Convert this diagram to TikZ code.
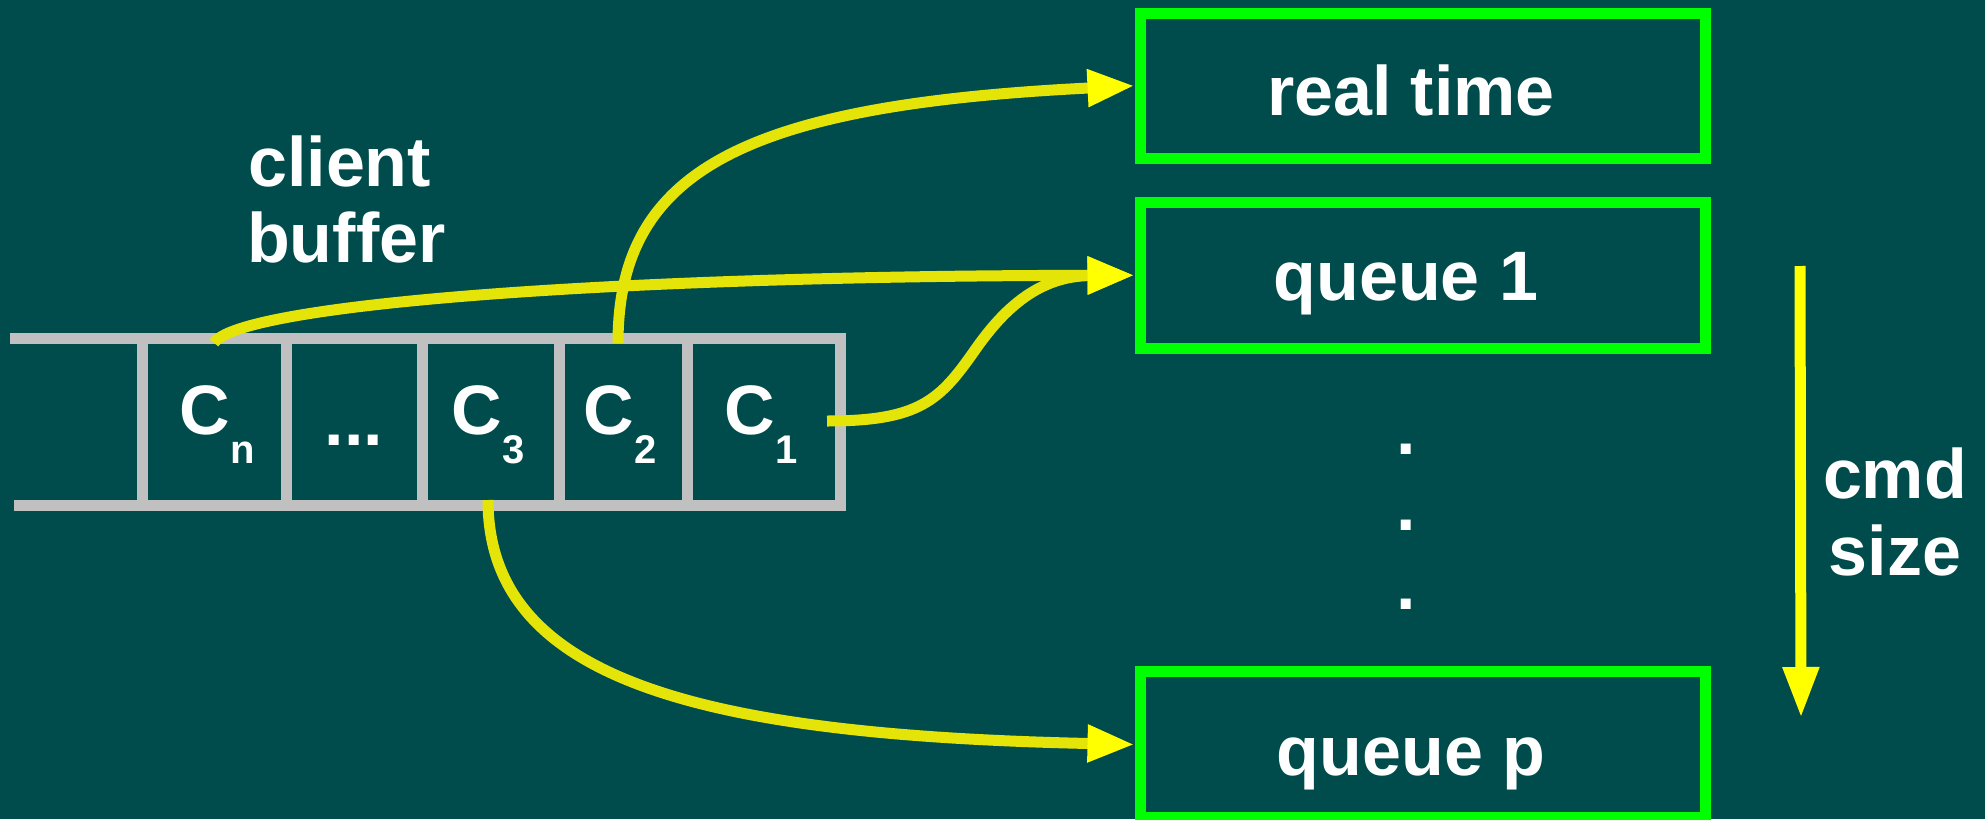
\documentclass[tikz,border=0pt]{standalone}
\usepackage{fontspec}
\setmainfont{Liberation Sans}
\usetikzlibrary{arrows.meta}

\definecolor{bgteal}{RGB}{0,76,76}
\definecolor{bufgray}{RGB}{192,192,192}
\definecolor{qgreen}{RGB}{0,255,0}
\definecolor{flowyellow}{RGB}{228,228,8}
\definecolor{tipyellow}{RGB}{255,255,0}

\tikzset{
  bigtext/.style={text=white, font=\fontsize{70}{76}\selectfont\bfseries, inner sep=0pt},
  qbox/.style={draw=qgreen, line width=11pt, minimum width=565pt, minimum height=145.5pt, inner sep=0pt},
  buffline/.style={draw=bufgray, line width=11pt},
  flow/.style={draw=flowyellow, line width=11pt,
    -{Triangle[length=47pt,width=35pt,color=tipyellow]}},
  sizearrow/.style={draw=tipyellow, line width=11pt,
    -{Triangle[length=51pt,width=34pt]}},
}
\newcommand{\cell}[1]{C\raisebox{-29pt}{\fontsize{40}{40}\selectfont #1}}

\begin{document}
\begin{tikzpicture}[x=1pt,y=-1pt]
\useasboundingbox[fill=bgteal] (0,0) rectangle (1985,819);

% client buffer: two rails, closed right end, cell walls
\draw[buffline] (10,338) -- (840,338) -- (840,505) -- (14,505);
\foreach \x in {142,286,422,559,687}
  \draw[buffline] (\x,338) -- (\x,505);

\node[bigtext, anchor=base] (cn) at (217,434) {\cell{n}};
\node[bigtext, anchor=base] (cdots) at (354,445) {...};
\node[bigtext, anchor=base] (c3) at (488,434) {\cell{3}};
\node[bigtext, anchor=base] (c2) at (620,434) {\cell{2}};
\node[bigtext, anchor=base] (c1) at (761,434) {\cell{1}};

\node[bigtext, anchor=base west] (client) at (248,186) {client};
\node[bigtext, anchor=base west] (buffer) at (247,262) {buffer};

% queues
\node[qbox] (rt) at (1422.5,85.75) {};
\node[qbox] (q1) at (1422.5,275.25) {};
\node[qbox] (qp) at (1422.5,744.5) {};
\node[bigtext, anchor=base] (rtlabel) at (1411,115) {real time};
\node[bigtext, anchor=base] (q1label) at (1406,300) {queue 1};
\node[bigtext, anchor=base] (qplabel) at (1411,775) {queue p};

\node[bigtext, anchor=base] (vd1) at (1406,454) {.};
\node[bigtext, anchor=base] (vd2) at (1406,530) {.};
\node[bigtext, anchor=base] (vd3) at (1406,609) {.};

% command size axis
\coordinate (cmdtop) at (1800,266);
\coordinate (cmdbot) at (1801,718);
\draw[sizearrow] (cmdtop) -- (cmdbot);
\node[bigtext, anchor=base] (cmd) at (1895,498) {cmd};
\node[bigtext, anchor=base] (size) at (1895,575) {size};

% dispatch of buffered commands
\coordinate (cn-top) at (214,343);
\coordinate (c2-top) at (618,343);
\coordinate (c1-right) at (827,421);
\coordinate (c3-bot) at (488,500);

\draw[flow] (cn-top) .. controls (238,305) and (600,276) .. (q1.west);
\draw[flow] (c2-top) .. controls (618,170) and (745,105) .. (rt.west);
\draw[flow] (c1-right) .. controls (920,421) and (940,400) .. (975,350)
  .. controls (1005,307) and (1040,276) .. (q1.west);
\draw[flow] (c3-bot) .. controls (488,680) and (700,735) .. (qp.west);
\end{tikzpicture}
\end{document}
